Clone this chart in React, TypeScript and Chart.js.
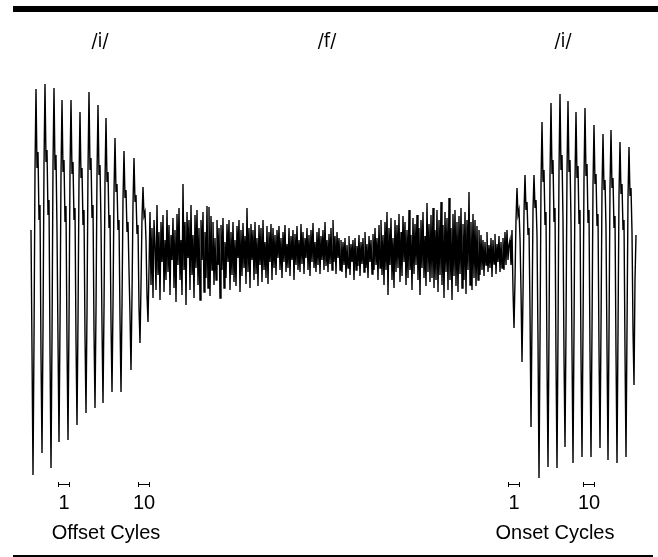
import React, { useEffect, useRef } from "react";
import { Chart, registerables } from "chart.js";

Chart.register(...registerables);

// Waveform amplitude samples (arbitrary units, 0 = baseline), one sample per ms
const waveStart = 31; // ms of the first sample
const sampleStep = 1; // ms between samples

// /i/ offset: vowel cycles fading into the fricative
const offsetVowel = [
  20, -100,
  -225, -90, 80, 161, 82, 98, 30, 45, -105,
  -203, -80, 85, 166, 88, 100, 35, 50, -100,
  -218, -88, 85, 162, 80, 95, 20, -90,
  -192, -75, 75, 150, 78, 90, 28, 44, -92,
  -190, -72, 78, 150, 76, 88, 30, 42, -90,
  -175, -70, 70, 138, 72, 82, 25, 40, -85,
  -163, -62, 80, 158, 80, 92, 32, 45, -80,
  -158, -60, 75, 145, 75, 85, 25, -75,
  -153, -58, 68, 132, 68, 78, 22, 35, -72,
  -142, -55, 58, 112, 58, 66, 20, 30, -68,
  -142, -55, 50, 99, 52, 60, 18, 28, -20, -65,
  -120, -45, 46, 92, 48, 55, 16, 25, -58,
  -93, -35, 32, 63, 34, 38, 10, -45,
  -72,
];

// /f/ frication noise
const frication = [
  -20, 38, -35, 22, -48, 30, 5, -40, 45, -25,
  18, -50, 28, -12, 35, -42, 10, -30, 40, -22,
  25, -45, 15, -10,
  32, -38, 20, -52, 36, -15, 42, -30, 10, -45,
  66, -20, 28, -55, 38, -8, 30, -40, 45, -25,
  15, -48, 35, -18, 40, -35, 22, -50, 30, -10,
  38, -42, 18, -28, 44, -38, 43, -46, 34, -20,
  28, -35, 12, -30, 30, -15, 22, -48, 25, -20,
  32, -38, 8, -28, 26, -12, 30, -40, 18, -25,
  28, -32, 10, -36, 24, -8, 30, -42, 20, -26,
  27, -18, 14, -34, 42, -22, 22, -38, 26, -10,
  20, -30, 28, -24, 12, -36, 25, -15, 22, -32,
  30, -20, 8, -28, 24, -34, 18, -12, 26, -30,
  22, -18, 15, -25, 20, -8, 24, -20, 12, -28,
  18, -12, 25, -22, 6, -18, 22, -26, 14, -10,
  20, -30, 16, -15, 24, -20, 10, -22, 26, -14,
  18, -24, 12, -8, 22, -20, 15, -26, 20, -12,
  27, -18, 8, -22, 18, -15, 22, -24, 14, -10,
  20, -20, 28, -16, 10, -22, 16, -14, 22, -20,
  30, -12, 14, -24, 18, -8, 12, -20,
  10, -22, 8, -15, 12, -28, 5, -18, 14, -25,
  6, -12, 10, -30, 12, -20, 4, -16, 15, -26,
  8, -14, 12, -22, 18, -18, 6, -28, 14, -12,
  10, -24, 16, -20, 22, -15, 12, -30, 25, -18,
  30, -25, 15, -35, 28, -20, 38, -45, 22, -15,
  32, -30, 12, -38, 30, -22, 25, -18, 36, -32,
  18, -26, 34, -12, 28, -35, 20, -28, 40, -20,
  15, -40, 32, -24, 26, -15, 35, -30, 22, -45,
  30, -18, 38, -28, 14, -36, 47, -22, 26, -32,
  35, -28, 42, -38, 20, -30, 40, -42, 30, -25,
  48, -35, 25, -48, 38, -22, 32, -40, 52, -30,
  22, -50, 36, -26, 40, -36, 28, -42, 34, -24,
  42, -38, 26, -30, 38, -44, 30, -20, 58, -35,
  28, -40, 36, -28, 30, -36, 24, -30, 20, -25,
  15, -20, 10, -26, 8, -15, 18, -22, 5, -18,
  12, -27, 10, -14, 16, -24, 6, -12, 14, -22,
  8, -18, 12, -20, 18, -15, 20, -10, 5,
];

// /i/ onset: vowel cycles growing out of the fricative
const onsetVowel = [
  10, -15, 20, -40,
  -78, -30, 30, 62, 35, 40, 12, -40,
  -112, -45, 38, 75, 40, 48, 15, 22, -60,
  -177, -70, 40, 75, 42, 50, 15, -90,
  -228, -90, 65, 128, 68, 80, 25, 38, -110,
  -217, -85, 74, 147, 76, 90, 28, 42, -108,
  -218, -85, 80, 156, 80, 95, 30, -105,
  -197, -78, 78, 149, 78, 90, 28, -100,
  -213, -82, 70, 138, 72, 84, 26, 40, -105,
  -207, -80, 72, 142, 74, 86, 27, 40, -102,
  -207, -80, 64, 125, 66, 76, 24, 36, -100,
  -198, -78, 60, 116, 60, 70, 22, -98,
  -210, -82, 62, 120, 62, 72, 22, 34, -102,
  -213, -82, 55, 108, 56, 66, 20, 30, -100,
  -207, -80, 52, 103, 54, 62, 18, -80,
  -135, -30, 15,
];

// Annotations (x positions in ms)
const phonemeLabels = ["/i/", "/f/", "/i/"];
const phonemeTimes = [100, 327, 563];
const cycleMarkLabels = ["1", "10", "1", "10"];
const cycleMarkTimes = [64, 144, 514, 589];
const cycleMarkSpan = 12; // ms
const groupLabels = ["Offset Cyles", "Onset Cycles"];
const groupTimes = [106, 555];

const W = 658;
const H = 557;

export default function App() {
  const ref = useRef<HTMLCanvasElement | null>(null);

  useEffect(() => {
    document.body.style.margin = "0";
    const canvas = ref.current;
    if (!canvas) return;

    const samples = [...offsetVowel, ...frication, ...onsetVowel];
    const points = samples.map((v, i) => ({ x: waveStart + i * sampleStep, y: v }));

    const annotate = {
      id: "annotate",
      afterDraw(chart: any) {
        const ctx = chart.ctx as CanvasRenderingContext2D;
        const xs = chart.scales.x;
        ctx.save();
        ctx.fillStyle = "#000";
        // frame rules
        ctx.fillRect(13, 6, W - 13, 6);
        ctx.fillRect(13, 555, 640, 2);
        // phoneme labels
        ctx.textAlign = "center";
        ctx.textBaseline = "middle";
        ctx.font = '20px "Liberation Sans Narrow", "DejaVu Sans Condensed", "Liberation Sans", sans-serif';
        phonemeLabels.forEach((t, i) => {
          ctx.fillText(t, xs.getPixelForValue(phonemeTimes[i]), 42);
        });
        // cycle markers
        ctx.strokeStyle = "#000";
        ctx.lineWidth = 1;
        ctx.font = '20px "Liberation Sans", Arial, sans-serif';
        ctx.textBaseline = "alphabetic";
        cycleMarkLabels.forEach((t, i) => {
          const c = xs.getPixelForValue(cycleMarkTimes[i]);
          const a = Math.round(xs.getPixelForValue(cycleMarkTimes[i] - cycleMarkSpan / 2)) + 0.5;
          const b = Math.round(xs.getPixelForValue(cycleMarkTimes[i] + cycleMarkSpan / 2)) - 0.5;
          ctx.beginPath();
          ctx.moveTo(a, 484.5);
          ctx.lineTo(b, 484.5);
          ctx.moveTo(a, 482);
          ctx.lineTo(a, 487);
          ctx.moveTo(b, 482);
          ctx.lineTo(b, 487);
          ctx.stroke();
          ctx.fillText(t, c, 509);
        });
        groupLabels.forEach((t, i) => {
          ctx.fillText(t, xs.getPixelForValue(groupTimes[i]), 539);
        });
        ctx.restore();
      },
    };

    const chart = new Chart(canvas, {
      type: "line",
      data: {
        datasets: [
          {
            data: points,
            borderColor: "#000",
            borderWidth: 1.4,
            pointRadius: 0,
            tension: 0,
            fill: false,
          },
        ],
      },
      options: {
        animation: false,
        responsive: false,
        maintainAspectRatio: false,
        devicePixelRatio: 1,
        layout: { padding: 0 },
        plugins: { legend: { display: false }, tooltip: { enabled: false }, title: { display: false } },
        scales: {
          x: { type: "linear", min: 0, max: W, display: false },
          y: { type: "linear", min: -307, max: 250, display: false },
        },
        events: [],
      },
      plugins: [annotate],
    });
    return () => chart.destroy();
  }, []);

  return (
    <div style={{ width: W, height: H, background: "#fff" }}>
      <canvas ref={ref} width={W} height={H} style={{ width: W, height: H, display: "block" }} />
    </div>
  );
}
